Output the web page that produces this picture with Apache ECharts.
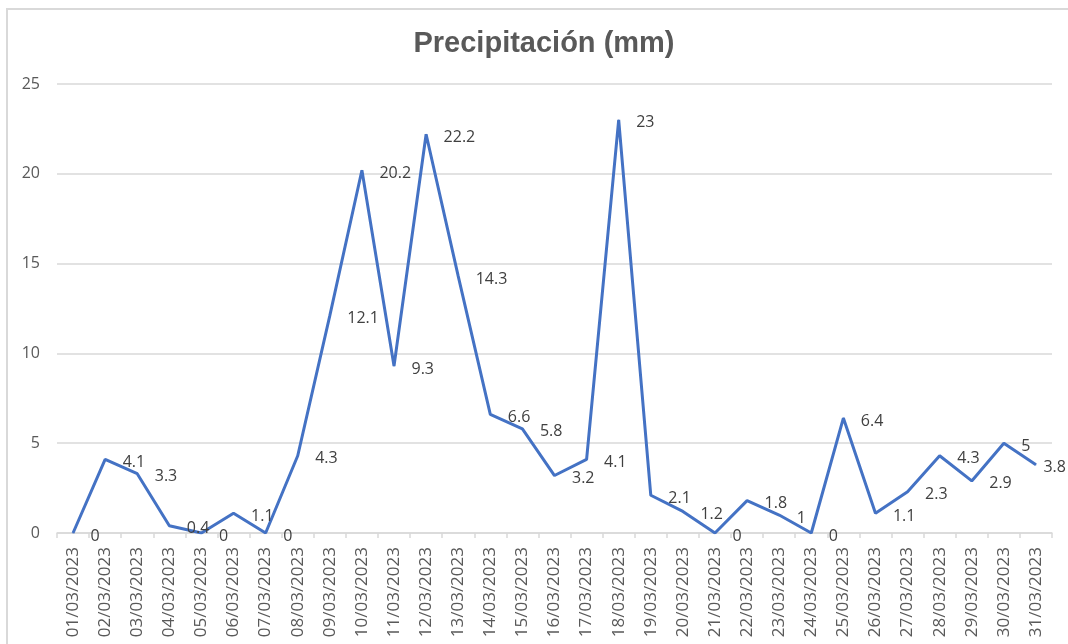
<!DOCTYPE html>
<html>
<head>
<meta charset="utf-8">
<script src="https://cdn.jsdelivr.net/npm/echarts@6/dist/echarts.min.js"></script>
<style>
  html, body { margin: 0; padding: 0; background: #fff; }
  #chart { width: 1068px; height: 644px; }
</style>
</head>
<body>
<div id="chart"></div>
<script>
var dates = [
    '01/03/2023', '02/03/2023', '03/03/2023', '04/03/2023', '05/03/2023', '06/03/2023',
    '07/03/2023', '08/03/2023', '09/03/2023', '10/03/2023', '11/03/2023', '12/03/2023',
    '13/03/2023', '14/03/2023', '15/03/2023', '16/03/2023', '17/03/2023', '18/03/2023',
    '19/03/2023', '20/03/2023', '21/03/2023', '22/03/2023', '23/03/2023', '24/03/2023',
    '25/03/2023', '26/03/2023', '27/03/2023', '28/03/2023', '29/03/2023', '30/03/2023',
    '31/03/2023'
];
var precip = [
    0, 4.1, 3.3, 0.4, 0, 1.1, 0, 4.3, 12.1, 20.2, 9.3, 22.2,
    14.3, 6.6, 5.8, 3.2, 4.1, 23, 2.1, 1.2, 0, 1.8, 1, 0,
    6.4, 1.1, 2.3, 4.3, 2.9, 5, 3.8
];

// last label sits closer to its point so it stays inside the frame
var seriesData = precip.map(function (v, i) {
    if (i === precip.length - 1) {
        return { value: v, label: { distance: 7 } };
    }
    return v;
});

var chart = echarts.init(document.getElementById('chart'));

var option = {
    animation: false,
    backgroundColor: '#fff',
    title: {
        text: 'Precipitación (mm)',
        left: 539,
        textAlign: 'center',
        top: 24,
        textStyle: {
            fontFamily: 'Liberation Sans',
            fontWeight: 'bold',
            fontSize: 29,
            color: '#595959'
        }
    },
    graphic: [{
        type: 'rect',
        shape: { x: 7, y: 9, width: 1080, height: 660 },
        style: { fill: 'none', stroke: '#d9d9d9', lineWidth: 2 },
        silent: true
    }],
    grid: {
        left: 57,
        right: 16,
        top: 84,
        bottom: 111
    },
    xAxis: {
        type: 'category',
        data: dates,
        boundaryGap: true,
        axisLine: { lineStyle: { color: '#d9d9d9', width: 1.5 } },
        axisTick: { show: true, length: 5, lineStyle: { color: '#d9d9d9', width: 1.5 } },
        axisLabel: {
            interval: 0,
            rotate: 90,
            margin: 14,
            fontFamily: 'Open Sans',
            fontSize: 17,
            color: '#595959'
        }
    },
    yAxis: {
        type: 'value',
        min: 0,
        max: 25,
        interval: 5,
        axisLine: { show: false },
        axisTick: { show: false },
        splitLine: { lineStyle: { color: '#d9d9d9', width: 1.5 } },
        axisLabel: {
            margin: 17,
            fontFamily: 'Open Sans',
            fontSize: 16,
            color: '#595959'
        }
    },
    series: [{
        name: 'Precipitación (mm)',
        type: 'line',
        data: seriesData,
        symbol: 'circle',
        symbolSize: 1,
        itemStyle: { color: '#4472C4' },
        lineStyle: { color: '#4472C4', width: 3 },
        label: {
            show: true,
            position: 'right',
            distance: 17,
            offset: [0, 3],
            fontFamily: 'Open Sans',
            fontSize: 16,
            color: '#404040'
        }
    }]
};

chart.setOption(option);
</script>
</body>
</html>
